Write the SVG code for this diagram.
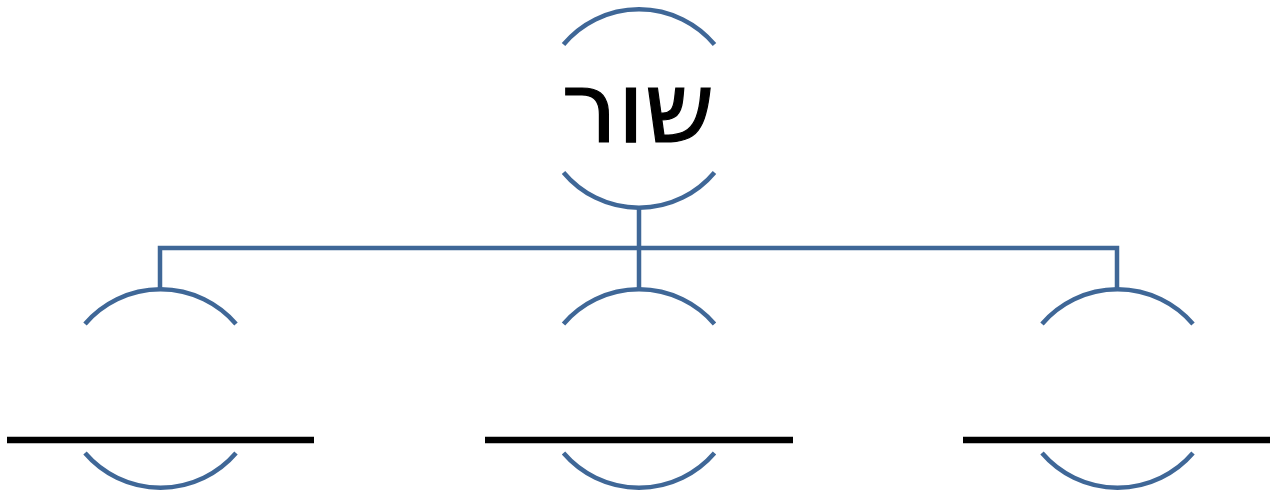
<svg xmlns="http://www.w3.org/2000/svg" width="1270" height="493" viewBox="0 0 1270 493">
<style>
.arc{fill:none;stroke:#3F6797;stroke-width:4.5}
.conn{fill:none;stroke:#3F6797;stroke-width:4.5}
.bar{stroke:#000;stroke-width:6.5}
.lbl{font-family:"DejaVu Sans",sans-serif;font-size:99px;fill:#000;stroke:#000;stroke-width:1.2}
</style>
<rect width="1270" height="493" fill="#fff"/>
<g id="connectors">
<path class="conn" d="M639 207 V248 M160 290 V248 H1117 V290 M639 248 V290"/>
</g>
<g id="node-top">
<path class="arc" d="M563.5 44.5 A98.5 98.5 0 0 1 714.5 44.5"/>
<path class="arc" d="M563.5 172.5 A98.5 98.5 0 0 0 714.5 172.5"/>
<text class="lbl" x="638" y="142" text-anchor="middle" direction="rtl">שור</text>
</g>
<g id="node-left">
<path class="arc" d="M85 324 A99.5 99.5 0 0 1 236 324"/>
<path class="arc" d="M85 453 A99.5 99.5 0 0 0 236 453"/>
<line class="bar" x1="7" y1="440" x2="314" y2="440"/>
</g>
<g id="node-middle">
<path class="arc" d="M563.5 324 A99.5 99.5 0 0 1 714.5 324"/>
<path class="arc" d="M563.5 453 A99.5 99.5 0 0 0 714.5 453"/>
<line class="bar" x1="485" y1="440" x2="793" y2="440"/>
</g>
<g id="node-right">
<path class="arc" d="M1042 324 A99.5 99.5 0 0 1 1193 324"/>
<path class="arc" d="M1042 453 A99.5 99.5 0 0 0 1193 453"/>
<line class="bar" x1="963" y1="440" x2="1270" y2="440"/>
</g>
</svg>
